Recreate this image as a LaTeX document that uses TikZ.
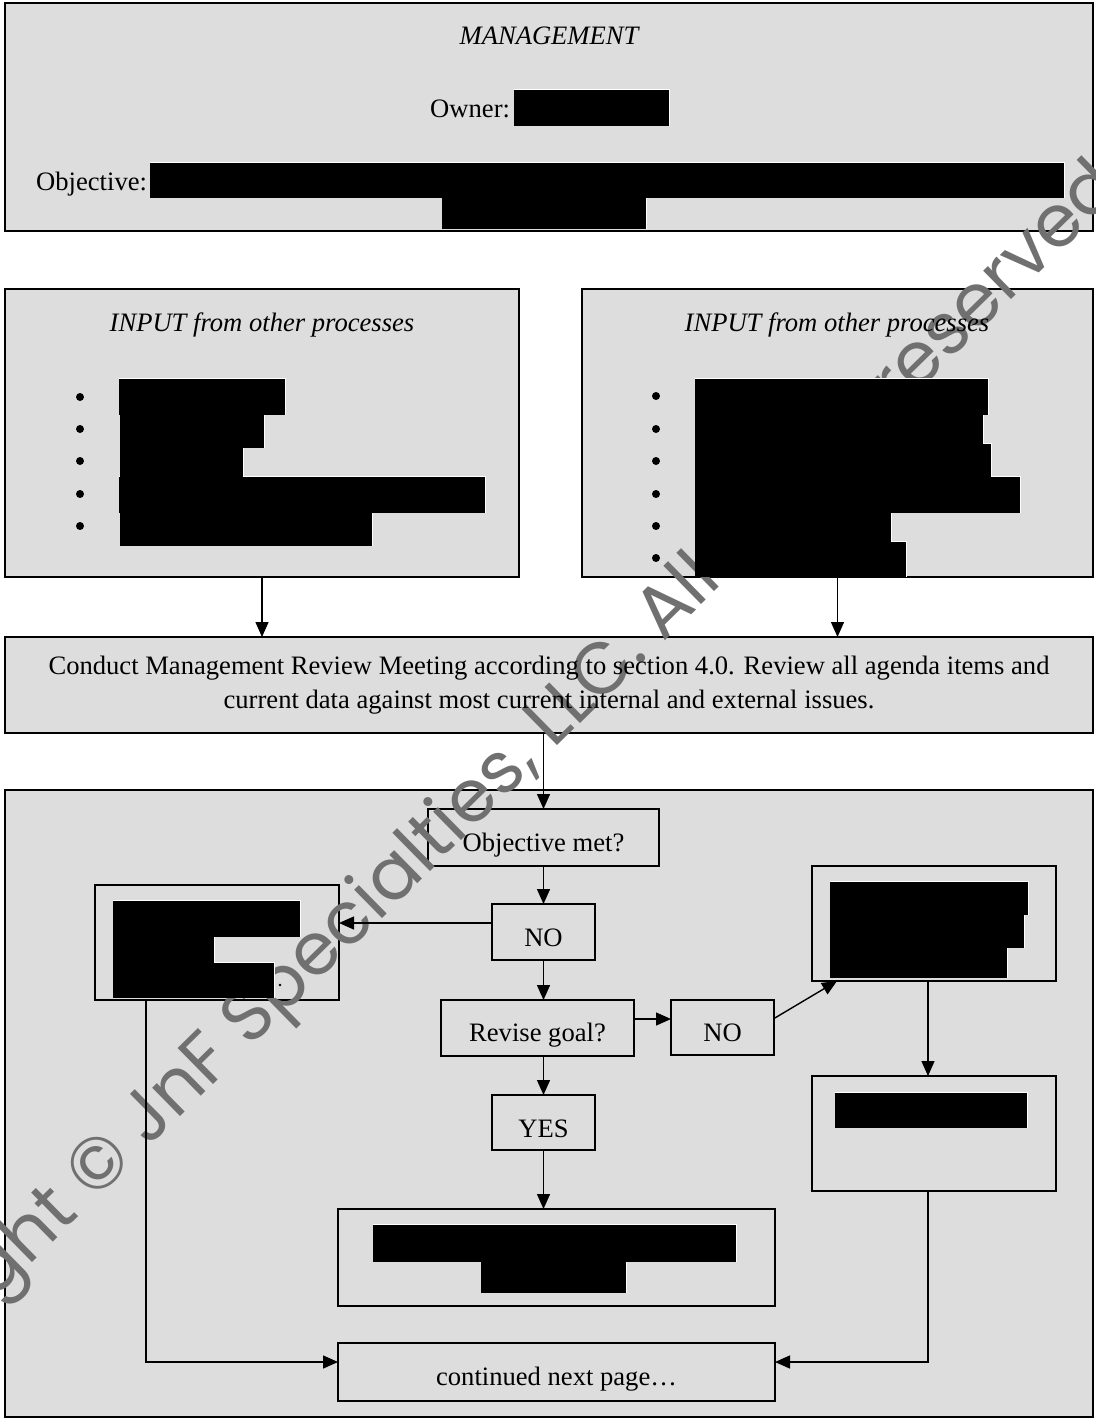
\documentclass[tikz,border=0pt]{standalone}
\usepackage{fontspec}
\setmainfont{Liberation Serif}
\newfontfamily\wmfont{Poppins}
\usetikzlibrary{arrows.meta}
\definecolor{boxgray}{HTML}{DDDDDD}
\definecolor{wmgray}{HTML}{707070}
\def\redactlist{514/90/669/126, 150/163/1064/198, 442/198/646/229,
 119/379/285/415, 120/415/264/448, 120/448/243/477, 119/477/485/513, 120/513/372/546,
 695/379/988/415, 695/415/983/444, 695/444/991/477, 695/477/1020/513, 695/513/891/542, 695/542/906/577,
 113/901/300/937, 113/937/214/963, 113/963/274/998,
 830/882/1028/915, 830/915/1024/948, 830/948/1007/978,
 835/1093/1027/1128,
 373/1225/736/1262, 481/1262/626/1293}
\begin{document}
\begin{tikzpicture}[x=0.5pt,y=-0.5pt,
  every node/.style={inner sep=0pt, outer sep=0pt},
  outerbox/.style={draw=black, fill=boxgray, line width=1.2pt},
  innerbox/.style={draw=black, fill=boxgray, line width=0.9pt},
  lbl/.style={font=\fontsize{13.3}{17}\selectfont, text=black},
  ilbl/.style={font=\fontsize{13.3}{17}\selectfont\itshape, text=black},
  arr/.style={line width=0.7pt, -{Triangle[length=7.5pt,width=6.5pt]}},
  wm/.style={font=\wmfont\fontsize{36.3}{36.3}\selectfont, text=wmgray}
]
\useasboundingbox (0,0) rectangle (1096,1420);
\fill[white] (0,0) rectangle (1096,1420);
% outer boxes
\node[outerbox, minimum width=544pt, minimum height=114pt] (mgmt) at (549,117) {};
\node[outerbox, minimum width=257pt, minimum height=144pt] (inL) at (262,433) {};
\node[outerbox, minimum width=255.5pt, minimum height=144pt] (inR) at (837.5,433) {};
\node[outerbox, minimum width=544pt, minimum height=48pt] (conduct) at (549,685) {};
\node[outerbox, minimum width=544pt, minimum height=313.5pt] (big) at (549,1103.5) {};
% inner boxes
\node[innerbox, minimum width=115.5pt, minimum height=28.5pt] (objm) at (543.5,837.5) {};
\node[innerbox, minimum width=51.5pt, minimum height=28pt] (no1) at (543.5,932) {};
\node[innerbox, minimum width=122pt, minimum height=57.5pt] (lbox) at (217,942.5) {};
\node[innerbox, minimum width=96.5pt, minimum height=28pt] (rev) at (537.5,1028) {};
\node[innerbox, minimum width=51.5pt, minimum height=27.5pt] (no2) at (722.5,1027.5) {};
\node[innerbox, minimum width=122pt, minimum height=57.5pt] (rt) at (934,923.5) {};
\node[innerbox, minimum width=122pt, minimum height=57.5pt] (rb) at (934,1133.5) {};
\node[innerbox, minimum width=51.5pt, minimum height=27.5pt] (yes) at (543.5,1122.5) {};
\node[innerbox, minimum width=218.5pt, minimum height=48.5pt] (mid) at (556.5,1257.5) {};
\node[innerbox, minimum width=218.5pt, minimum height=29pt] (cont) at (556.5,1372) {};
% watermark
\node[wm, rotate=44.5, anchor=base west] (wmark) at (-176,1467) {Copyright © JnF Specialties, LLC. All rights reserved worldwide};
% connectors
\draw[arr] (inL.south) -- (inL.south |- conduct.north);
\draw[arr] (inR.south) -- (inR.south |- conduct.north);
\draw[arr] (conduct.south -| objm.north) -- (objm.north);
\draw[arr] (objm.south) -- (no1.north);
\draw[arr] ([yshift=4.5pt]no1.west) -- ([yshift=4.5pt]no1.west -| lbox.east);
\draw[arr] (no1.south) -- (no1.south |- rev.north);
\draw[arr] ([yshift=4.5pt]rev.east) -- ([yshift=4.5pt]rev.east -| no2.west);
\draw[arr] ([yshift=4.5pt]no2.east) -- ([xshift=12.5pt]rt.south west);
\draw[arr] (rev.south -| yes.north) -- (yes.north);
\draw[arr] (yes.south) -- (yes.south |- mid.north);
\draw[arr] ([xshift=-3pt]rt.south) -- ([xshift=-3pt]rb.north);
\draw[arr] ([xshift=25.5pt]lbox.south west) |- ([yshift=5pt]cont.west);
\draw[arr] ([xshift=-3pt]rb.south) |- ([yshift=5pt]cont.east);
% texts
\node[ilbl, anchor=base] (tmg) at (549,44) {MANAGEMENT};
\node[lbl, anchor=base east] (town) at (510,117) {Owner:};
\node[lbl, anchor=base east] (tobj) at (147,190) {Objective:};
\node[ilbl, anchor=base] (tinl) at (262,331) {INPUT from other processes};
\node[ilbl, anchor=base] (tinr) at (837,331) {INPUT from other processes};
\node[lbl, align=center] (tcond) at (549,685) {Conduct Management Review Meeting according to section 4.0. Review all agenda items and\\current data against most current internal and external issues.};
\node[lbl, anchor=base] (tobjm) at (543.5,851) {Objective met?};
\node[lbl, anchor=base] (tno1) at (543.5,946) {NO};
\node[lbl, anchor=base] (trev) at (537.5,1041) {Revise goal?};
\node[lbl, anchor=base] (tno2) at (722.5,1041) {NO};
\node[lbl, anchor=base] (tyes) at (543.5,1137) {YES};
\node[lbl, anchor=base] (tcont) at (556.5,1385) {continued next page…};
% bullets
\foreach \yy in {397,429,461,494,526} {\fill (80,\yy) circle[radius=4];}
\foreach \yy in {396,429,461,494,526,558} {\fill (656,\yy) circle[radius=4];}
\fill (280,985) circle[radius=1.3];
% redactions
\foreach \a/\b/\c/\d in \redactlist {\fill[white] (\a,\b-1.3) rectangle (\c+1.3,\d);}
\foreach \a/\b/\c/\d in \redactlist {\fill[black] (\a,\b) rectangle (\c,\d);}
\end{tikzpicture}
\end{document}
